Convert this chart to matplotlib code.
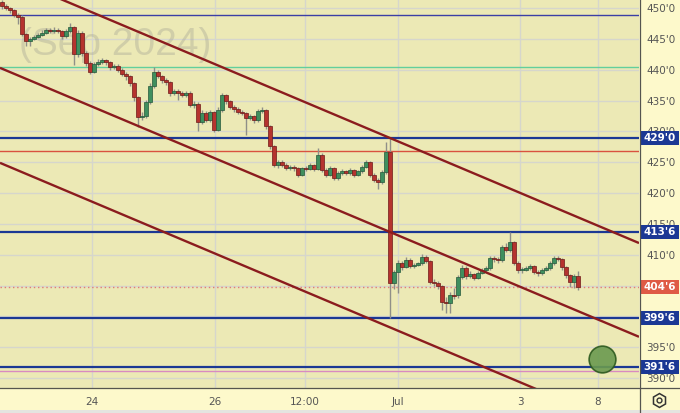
import matplotlib
matplotlib.use("Agg")
import matplotlib.pyplot as plt
from matplotlib.lines import Line2D
from matplotlib.patches import Rectangle
from matplotlib.transforms import blended_transform_factory

# candle data (hourly), open of each candle = previous close
first_open = 451.0
closes = [450.3, 450.0, 449.6, 448.9, 448.6, 445.8, 444.6, 444.9, 445.3, 445.7,
          446.0, 446.4, 446.3, 446.5, 446.2, 445.4, 446.3, 446.9, 442.5, 445.9,
          442.7, 441.1, 439.7, 440.9, 441.3, 441.6, 441.2, 440.4, 440.6, 440.0,
          439.3, 438.9, 437.8, 435.5, 432.3, 432.5, 434.8, 437.4, 439.6, 439.0,
          438.3, 438.0, 436.2, 436.6, 436.2, 435.9, 436.3, 434.3, 434.5, 431.6,
          433.0, 431.9, 433.1, 430.3, 433.5, 435.9, 434.9, 434.0, 433.6, 433.2,
          433.0, 432.2, 432.5, 431.8, 433.3, 433.5, 430.8, 427.6, 424.6, 425.0,
          424.6, 424.1, 424.3, 424.0, 423.0, 424.0, 423.9, 424.5, 423.9, 426.2,
          423.8, 423.0, 424.0, 422.5, 423.2, 423.6, 423.2, 423.7, 423.0, 423.5,
          424.3, 425.0, 423.0, 422.2, 421.8, 423.4, 426.7, 405.5, 407.2, 408.7,
          408.0, 409.2, 408.2, 408.4, 408.6, 409.7, 409.0, 405.6, 405.4, 404.9,
          402.4, 402.1, 403.5, 403.4, 406.4, 407.9, 406.5, 406.9, 406.3, 407.1,
          407.6, 407.8, 409.5, 409.3, 409.1, 411.2, 410.8, 412.1, 408.7, 407.5,
          407.6, 407.9, 408.2, 407.2, 407.0, 407.6, 407.9, 408.7, 409.5, 409.3,
          408.0, 406.7, 405.6, 406.5, 404.75]
highs = [451.3, 450.6, 450.2, 449.8, 449.2, 448.8, 446.0, 445.3, 445.7, 446.0,
         446.4, 446.8, 446.8, 447.0, 446.8, 446.5, 446.6, 447.5, 447.1, 446.5,
         446.2, 443.0, 441.4, 441.2, 441.8, 441.9, 441.8, 441.4, 441.0, 440.9,
         440.2, 439.6, 439.1, 438.0, 435.8, 433.2, 435.1, 437.8, 440.4, 439.9,
         439.2, 438.6, 438.2, 436.9, 436.8, 436.5, 436.6, 436.5, 434.9, 434.7,
         433.4, 433.3, 433.5, 433.3, 433.9, 436.3, 436.1, 435.1, 434.3, 433.9,
         433.5, 433.2, 432.9, 432.7, 433.6, 434.0, 433.7, 431.0, 427.8, 425.4,
         425.3, 424.9, 424.6, 424.5, 424.2, 424.3, 424.4, 424.8, 424.7, 427.3,
         426.5, 424.1, 424.4, 424.2, 423.5, 423.9, 423.8, 424.0, 423.9, 423.8,
         424.6, 425.4, 425.2, 423.3, 422.5, 423.7, 428.2, 429.0, 407.6, 409.1,
         409.0, 409.6, 409.4, 408.7, 408.9, 410.2, 409.9, 409.2, 406.0, 405.7,
         405.1, 403.1, 403.9, 404.6, 406.7, 408.3, 408.2, 407.3, 407.1, 407.4,
         407.9, 408.1, 409.8, 409.8, 409.6, 411.6, 411.9, 413.7, 412.3, 409.0,
         408.0, 408.2, 408.5, 408.4, 407.5, 407.9, 408.2, 409.0, 409.8, 409.8,
         409.5, 408.2, 406.9, 406.9, 407.3]
lows = [449.9, 449.6, 449.2, 448.5, 447.4, 445.4, 443.8, 443.9, 444.8, 445.1,
        445.5, 445.8, 445.9, 446.0, 445.9, 444.9, 445.2, 446.0, 440.8, 442.0,
        442.2, 440.6, 439.3, 439.4, 440.6, 441.0, 440.8, 440.0, 440.1, 439.6,
        439.0, 438.4, 437.4, 435.0, 430.7, 431.8, 432.2, 434.5, 437.1, 438.6,
        437.9, 437.6, 435.8, 435.9, 435.1, 435.5, 435.6, 433.9, 433.8, 430.0,
        431.2, 431.5, 431.6, 429.9, 430.0, 433.2, 434.5, 433.6, 433.2, 432.8,
        432.6, 429.4, 431.8, 431.4, 431.5, 433.0, 430.4, 427.2, 424.2, 424.1,
        424.2, 423.7, 423.8, 423.6, 422.6, 422.7, 423.5, 423.7, 423.5, 423.7,
        423.4, 422.6, 422.7, 422.1, 422.2, 423.0, 422.9, 423.0, 422.6, 422.8,
        423.3, 424.1, 422.6, 421.8, 420.6, 421.5, 423.1, 399.7, 404.5, 403.8,
        407.6, 407.8, 407.9, 407.9, 408.1, 408.4, 408.6, 405.2, 404.9, 404.4,
        401.0, 400.6, 400.5, 402.8, 403.0, 406.1, 406.1, 406.2, 405.9, 406.0,
        406.8, 407.2, 407.5, 408.9, 408.7, 408.8, 410.4, 410.5, 408.3, 407.1,
        407.1, 407.3, 407.6, 406.9, 406.6, 406.7, 407.3, 407.6, 408.4, 409.0,
        407.6, 406.3, 404.8, 404.6, 404.3]

# price levels drawn across the chart
blue_levels = [429.0, 413.75, 399.75, 391.75]
blue_labels = ["429'0", "413'6", "399'6", "391'6"]
last_price = 404.75
last_label = "404'6"
thin_levels = [448.9, 440.4, 426.8, 391.1]
thin_colors = ["#3b3fa5", "#62cf9c", "#d9523f", "#d98ac0"]

# channel lines: price at left edge / right edge of the chart
trend_x = [-0.5, 159.25]
trend_upper = [455.6, 411.9]
trend_middle = [440.3, 396.7]
trend_lower = [424.9, 381.2]

# target marker
target_idx = 150
target_price = 393.1

# time axis
tick_idx = [22.5, 53.25, 75.75, 99, 129.5, 149]
tick_labels = ["24", "26", "12:00", "Jul", "3", "8"]
price_ticks = list(range(390, 451, 5))
covered_ticks = [400, 405]  # hidden under the price boxes

plot_bg = "#ece9b5"
panel_bg = "#fdf9cb"
up_col, up_edge = "#3f8f5e", "#24573a"
dn_col, dn_edge = "#b5332e", "#6e1a18"
trend_col = "#8b1c1e"
level_blue = "#1b3894"

fig = plt.figure(figsize=(6.8, 4.13), dpi=100, facecolor=panel_bg)
ax = fig.add_axes([0, 25 / 413, 639 / 680, 388 / 413])
ax.set_facecolor(plot_bg)
ax.set_xlim(trend_x[0], trend_x[1])
ax.set_ylim(388.4, 451.3)

# grid
for t in tick_idx:
    ax.axvline(t, color="#d6d6cc", lw=1, zorder=0)
for p in price_ticks:
    ax.axhline(p, color="#d6d6cc", lw=1, zorder=0)

# watermark
ax.text(0.18, 0.884, "(Sep 2024)", transform=ax.transAxes, ha="center", va="center",
        fontsize=28, family="Liberation Sans", color="#a8a795", alpha=0.4, zorder=0.5)

# horizontal levels
for lvl, col in zip(thin_levels, thin_colors):
    ax.axhline(lvl, color=col, lw=1.0, zorder=1)
for lvl in blue_levels:
    ax.axhline(lvl, color=level_blue, lw=1.6, zorder=1.5)
ax.axhline(last_price, color="#e07a78", lw=1.0, ls=(0, (1, 2)), zorder=1.5)

# candles
opens = [first_open] + closes[:-1]
idx = list(range(len(closes)))
ax.vlines(idx, lows, highs, color="#8f8f88", lw=1.0, zorder=2)
for i, o, c in zip(idx, opens, closes):
    up = c >= o
    h = c - o if abs(c - o) > 0.15 else (0.15 if up else -0.15)
    ax.bar(i, h, bottom=o, width=0.78, color=up_col if up else dn_col,
           edgecolor=up_edge if up else dn_edge, linewidth=0.5, zorder=3)

# channel
for tl in (trend_upper, trend_middle, trend_lower):
    ax.plot(trend_x, tl, color=trend_col, lw=1.7, zorder=4, solid_capstyle="butt")

ax.scatter([target_idx], [target_price], s=370, color="#6a9a4f", alpha=0.9,
           edgecolors="#2d5a1f", linewidths=1.2, zorder=5)

# axes text
ax.set_xticks(tick_idx)
ax.set_xticklabels(tick_labels)
ax.set_yticks(price_ticks)
ax.set_yticklabels(["" if p in covered_ticks else f"{p}'0" for p in price_ticks])
ax.yaxis.tick_right()
ax.tick_params(axis="both", length=0, labelsize=7.5, labelcolor="#555555")
ax.tick_params(axis="x", pad=6.5)
ax.tick_params(axis="y", pad=5)
for s in ax.spines.values():
    s.set_visible(False)

# price labels on the right scale
tr = blended_transform_factory(fig.transFigure, ax.transData)
box_h = 14 / 6.17
for lvl, lab, col in list(zip(blue_levels, blue_labels, [level_blue] * 4)) + [(last_price, last_label, "#df5a45")]:
    ax.add_patch(Rectangle((640 / 680, lvl - box_h / 2), 39 / 680, box_h, transform=tr,
                           facecolor=col, edgecolor="none", clip_on=False, zorder=6))
    ax.text(659.5 / 680, lvl, lab, transform=tr, ha="center", va="center", color="white",
            fontsize=7.5, fontweight="bold", zorder=7, clip_on=False)

# separators and settings icon
fig.add_artist(Line2D([639.5 / 680, 639.5 / 680], [0, 1], color="#55554f", lw=0.9))
fig.add_artist(Line2D([0, 1], [25 / 413, 25 / 413], color="#55554f", lw=0.9))
fig.add_artist(Rectangle((0, 0), 1, 3 / 413, transform=fig.transFigure,
                         facecolor="#e4e4e0", edgecolor="none"))
fig.add_artist(Line2D([659 / 680], [13 / 413], marker="h", markersize=10, mfc="none",
                      mec="#333333", mew=1.1))
fig.add_artist(Line2D([659 / 680], [13 / 413], marker="o", markersize=3.5, mfc="none",
                      mec="#333333", mew=1.0))

fig.savefig("out.png", dpi=100, facecolor=panel_bg)
